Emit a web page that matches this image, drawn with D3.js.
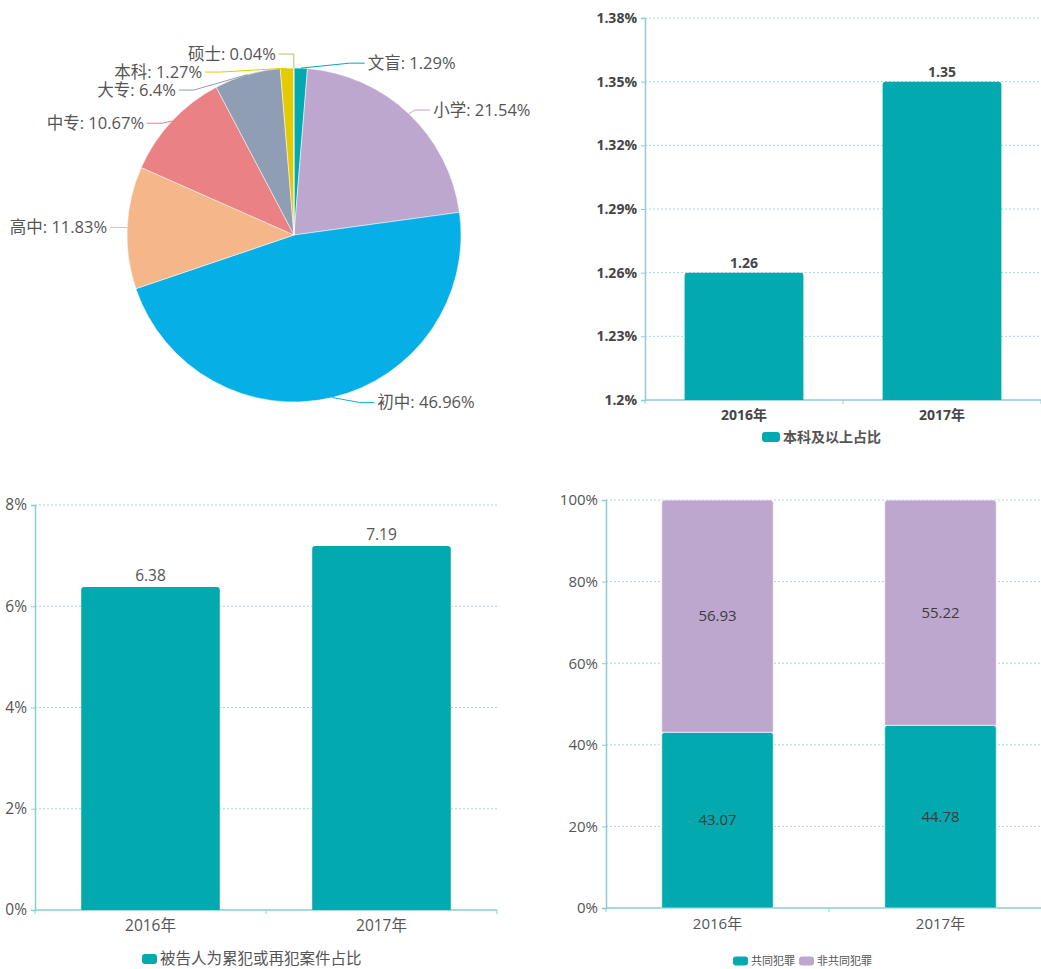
<!DOCTYPE html>
<html>
<head>
<meta charset="utf-8">
<script src="https://cdn.jsdelivr.net/npm/d3@7"></script>
<style>
  body { margin: 0; background: #fff; }
  svg text { font-family: "Open Sans", "Noto Sans CJK SC", sans-serif; }
</style>
</head>
<body>
<svg id="chart"></svg>
<script>
// pie: education level of defendants
var eduNames = ["文盲", "小学", "初中", "高中", "中专", "大专", "本科", "硕士"];
var eduValues = [1.29, 21.54, 46.96, 11.83, 10.67, 6.4, 1.27, 0.04];
var eduColors = ["#02aab0", "#bea7cf", "#06afe5", "#f5b78a", "#ea8185", "#8f9db5", "#e4cb00", "#a8c95c"];

var years = ["2016年", "2017年"];

// top right: share of bachelor degree and above
var degreeShare = [1.26, 1.35];
var degreeTicks = [1.2, 1.23, 1.26, 1.29, 1.32, 1.35, 1.38];

// bottom left: recidivism share
var repeatShare = [6.38, 7.19];
var repeatTicks = [0, 2, 4, 6, 8];

// bottom right: joint crime vs not
var jointCrime = [43.07, 44.78];
var nonJointCrime = [56.93, 55.22];
var stackTicks = [0, 20, 40, 60, 80, 100];

var teal = "#02aab0", lavender = "#bea7cf";
var axisColor = "#8ccdd1", gridColor = "#a6d7da";

var svg = d3.select("#chart").attr("width", 1041).attr("height", 969);

drawPie();
drawDegreeChart();
drawRepeatChart();
drawStackChart();

function drawPie() {
  var cx = 294, cy = 235, r = 167;
  var len1 = 5, len2 = 15, lh = 18;
  var g = svg.append("g");

  var pie = d3.pie().sort(null).value(function(d) { return d; });
  var arcs = pie(eduValues);
  var arc = d3.arc().innerRadius(0).outerRadius(r);

  g.selectAll("path.slice")
    .data(arcs)
    .enter().append("path")
    .attr("class", "slice")
    .attr("transform", "translate(" + cx + "," + cy + ")")
    .attr("d", arc)
    .attr("fill", function(d, i) { return eduColors[i]; })
    .attr("stroke", "#fff")
    .attr("stroke-width", 0.5);

  // label layout, pushes overlapping labels apart like echarts does
  var labels = arcs.map(function(d, i) {
    var mid = (d.startAngle + d.endAngle) / 2;
    var dx = Math.sin(mid), dy = -Math.cos(mid);
    var dir = dx < 0 ? -1 : 1;
    var ex = cx + r * dx, ey = cy + r * dy;
    var x2 = ex + len1 * dx, y2 = ey + len1 * dy;
    return { i: i, ex: ex, ey: ey, x: x2 + dir * len2 + dir * 3, y: y2, dir: dir };
  });

  [-1, 1].forEach(function(dir) {
    var list = labels.filter(function(l) { return l.dir == dir; });
    list.sort(function(a, b) { return a.y - b.y; });
    function shiftDown(start, end, delta) {
      for (var j = start; j < end; j++) {
        list[j].y += delta;
        if (j > start && j + 1 < end && list[j + 1].y > list[j].y + lh) {
          shiftUp(j, delta / 2);
          return;
        }
      }
      shiftUp(end - 1, delta / 2);
    }
    function shiftUp(end, delta) {
      for (var j = end; j >= 0; j--) {
        list[j].y -= delta;
        if (j > 0 && list[j].y > list[j - 1].y + lh) break;
      }
    }
    var lastY = 0;
    for (var i = 0; i < list.length; i++) {
      var delta = list[i].y - lastY;
      if (delta < 0) shiftDown(i, list.length, -delta);
      lastY = list[i].y + lh;
    }
    list.forEach(function(l) {
      var deltaY = Math.abs(l.y - cy);
      var R = r + len1 + len2;
      if (deltaY < r + len1) l.x = cx + dir * Math.sqrt(R * R - deltaY * deltaY);
    });
  });

  labels.forEach(function(l) {
    var endX = l.x - l.dir * 3, elbowX = l.x - l.dir * (3 + len2);
    g.append("polyline")
      .attr("points", [[l.ex, l.ey], [elbowX, l.y], [endX, l.y]].join(" "))
      .attr("fill", "none")
      .attr("stroke", eduColors[l.i])
      .attr("stroke-width", 1);
    g.append("text")
      .attr("x", l.x)
      .attr("y", l.y)
      .attr("dy", "0.35em")
      .attr("text-anchor", l.dir < 0 ? "end" : "start")
      .attr("font-size", "16.5px")
      .attr("fill", "#555")
      .text(eduNames[l.i] + ": " + eduValues[l.i] + "%");
  });
}

// shared pieces for the bar charts
function drawFrame(g, x, y, ticks, fmt, gridEnd, bold, fs) {
  var x0 = x.range()[0];
  var y0 = y.range()[0];

  // dotted grid
  g.selectAll("line.grid")
    .data(ticks.filter(function(t) { return y(t) != y0; }))
    .enter().append("line")
    .attr("class", "grid")
    .attr("x1", x0).attr("x2", gridEnd)
    .attr("y1", function(d) { return y(d); })
    .attr("y2", function(d) { return y(d); })
    .attr("stroke", gridColor)
    .attr("stroke-dasharray", "2,2");

  var yAxis = g.append("g")
    .attr("transform", "translate(" + x0 + ",0)")
    .call(d3.axisLeft(y).tickValues(ticks).tickFormat(fmt).tickSize(4).tickPadding(4));
  var xAxis = g.append("g")
    .attr("transform", "translate(0," + y0 + ")")
    .call(d3.axisBottom(x).tickSize(0).tickPadding(10));

  // category boundary ticks
  var bounds = d3.range(x.domain().length + 1).map(function(k) { return x0 + k * x.step(); });
  xAxis.append("g").selectAll("line")
    .data(bounds)
    .enter().append("line")
    .attr("x1", function(d) { return d; }).attr("x2", function(d) { return d; })
    .attr("y1", 0).attr("y2", 4)
    .attr("stroke", axisColor);

  [yAxis, xAxis].forEach(function(ax) {
    ax.select(".domain").attr("stroke", axisColor).attr("stroke-width", 1.5);
    ax.selectAll(".tick line").attr("stroke", axisColor);
    ax.selectAll("text")
      .attr("fill", bold ? "#454545" : "#555")
      .attr("font-weight", bold ? "bold" : "normal")
      .attr("font-size", fs)
      .style("font-family", "'Open Sans', 'Noto Sans CJK SC', sans-serif");
  });
  xAxis.select(".domain").attr("d", "M" + x0 + ",0H" + gridEnd);
}

function legendItem(g, x, y, w, h, color, label, fs, bold) {
  g.append("rect")
    .attr("x", x).attr("y", y - h / 2)
    .attr("width", w).attr("height", h)
    .attr("rx", 3)
    .attr("fill", color);
  var t = g.append("text")
    .attr("x", x + w + 3).attr("y", y)
    .attr("dy", "0.35em")
    .attr("font-size", fs)
    .attr("font-weight", bold ? "bold" : "normal")
    .attr("fill", "#555")
    .text(label);
  return x + w + 3 + t.node().getComputedTextLength();
}

function drawDegreeChart() {
  var g = svg.append("g");
  var x = d3.scaleBand().domain(years).range([645, 1041]).paddingInner(0.4).paddingOuter(0.2);
  var y = d3.scaleLinear().domain([1.2, 1.38]).range([400, 18]);

  drawFrame(g, x, y, degreeTicks, function(d) { return d + "%"; }, 1041, true, "14px");

  g.selectAll("path.bar")
    .data(degreeShare)
    .enter().append("path")
    .attr("class", "bar")
    .attr("d", function(d, i) { return barPath(x(years[i]), y(d), x.bandwidth(), y(1.2) - y(d), 3); })
    .attr("fill", teal);

  g.selectAll("text.val")
    .data(degreeShare)
    .enter().append("text")
    .attr("class", "val")
    .attr("x", function(d, i) { return x(years[i]) + x.bandwidth() / 2; })
    .attr("y", function(d) { return y(d) - 5; })
    .attr("text-anchor", "middle")
    .attr("font-size", "14px")
    .attr("font-weight", "bold")
    .attr("fill", "#454545")
    .text(function(d) { return d; });

  legendItem(g, 762, 437, 18, 10, teal, "本科及以上占比", "14px", true);
}

function drawRepeatChart() {
  var g = svg.append("g");
  var x = d3.scaleBand().domain(years).range([35, 497]).paddingInner(0.4).paddingOuter(0.2);
  var y = d3.scaleLinear().domain([0, 8]).range([910, 505]);

  drawFrame(g, x, y, repeatTicks, function(d) { return d + "%"; }, 497, false, "15.5px");

  g.selectAll("path.bar")
    .data(repeatShare)
    .enter().append("path")
    .attr("class", "bar")
    .attr("d", function(d, i) { return barPath(x(years[i]), y(d), x.bandwidth(), y(0) - y(d), 3); })
    .attr("fill", teal);

  g.selectAll("text.val")
    .data(repeatShare)
    .enter().append("text")
    .attr("class", "val")
    .attr("x", function(d, i) { return x(years[i]) + x.bandwidth() / 2; })
    .attr("y", function(d) { return y(d) - 6; })
    .attr("text-anchor", "middle")
    .attr("font-size", "15.5px")
    .attr("fill", "#555")
    .text(function(d) { return d; });

  legendItem(g, 142, 959, 15, 10, teal, "被告人为累犯或再犯案件占比", "15.5px", false);
}

function drawStackChart() {
  var g = svg.append("g");
  var x = d3.scaleBand().domain(years).range([606, 1052]).paddingInner(0.5).paddingOuter(0.25);
  var y = d3.scaleLinear().domain([0, 100]).range([908, 500]);

  drawFrame(g, x, y, stackTicks, function(d) { return d + "%"; }, 1041, false, "15px");

  var rows = years.map(function(yr, i) { return { year: yr, joint: jointCrime[i], other: nonJointCrime[i] }; });
  var series = d3.stack().keys(["joint", "other"])(rows);
  var colors = [teal, lavender];

  series.forEach(function(s, k) {
    g.selectAll("path.s" + k)
      .data(s)
      .enter().append("path")
      .attr("class", "s" + k)
      .attr("d", function(d) { return barPath(x(d.data.year), y(d[1]), x.bandwidth(), y(d[0]) - y(d[1]), 3); })
      .attr("fill", colors[k])
      .attr("stroke", "#fff")
      .attr("stroke-width", 0.6);

    g.selectAll("text.l" + k)
      .data(s)
      .enter().append("text")
      .attr("class", "l" + k)
      .attr("x", function(d) { return x(d.data.year) + x.bandwidth() / 2; })
      .attr("y", function(d) { return (y(d[0]) + y(d[1])) / 2; })
      .attr("dy", "0.35em")
      .attr("text-anchor", "middle")
      .attr("font-size", "15px")
      .attr("fill", "#3c3c3c")
      .text(function(d) { return k == 0 ? d.data.joint : d.data.other; });
  });

  var next = legendItem(g, 733, 961, 15, 9, teal, "共同犯罪", "11px", false);
  legendItem(g, next + 4, 961, 15, 9, lavender, "非共同犯罪", "11px", false);
}

function barPath(x, y, w, h, r) {
  r = Math.min(r, h / 2);
  return "M" + x + "," + (y + h) +
    "V" + (y + r) + "Q" + x + "," + y + " " + (x + r) + "," + y +
    "H" + (x + w - r) + "Q" + (x + w) + "," + y + " " + (x + w) + "," + (y + r) +
    "V" + (y + h) + "Z";
}
</script>
</body>
</html>
